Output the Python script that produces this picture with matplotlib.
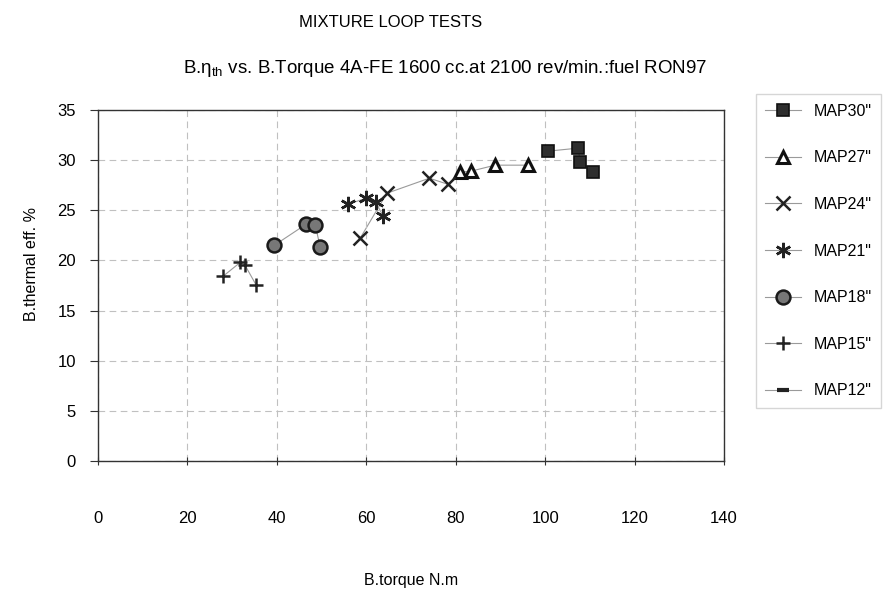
import matplotlib
import numpy as np

matplotlib.use("Agg")
from matplotlib import pyplot as plt
from matplotlib.lines import Line2D

plt.rcParams["font.family"] = ["Liberation Sans", "DejaVu Sans"]

# brake torque (N.m) and brake thermal efficiency (%) per manifold pressure
map30_torque = [100.7, 107.4, 107.8, 110.8]
map30_eff = [30.9, 31.2, 29.8, 28.8]

map27_torque = [81.0, 83.4, 88.8, 96.1]
map27_eff = [28.8, 28.9, 29.5, 29.5]

map24_torque = [58.6, 64.6, 74.1, 78.2]
map24_eff = [22.2, 26.7, 28.2, 27.6]

map21_torque = [55.9, 59.9, 62.1, 63.8]
map21_eff = [25.6, 26.2, 25.8, 24.4]

map18_torque = [39.4, 46.5, 48.6, 49.7]
map18_eff = [21.5, 23.6, 23.5, 21.3]

map15_torque = [27.9, 31.8, 32.9, 35.3]
map15_eff = [18.4, 19.8, 19.5, 17.6]

map12_torque = []
map12_eff = []

series_labels = ['MAP30"', 'MAP27"', 'MAP24"', 'MAP21"', 'MAP18"', 'MAP15"', 'MAP12"']

x_ticks = [0, 20, 40, 60, 80, 100, 120, 140]
y_ticks = [0, 5, 10, 15, 20, 25, 30, 35]

styles = [
    dict(marker="s", markersize=9, markerfacecolor="#2e2e2e", markeredgecolor="#111111", markeredgewidth=1.2),
    dict(marker="^", markersize=9, markerfacecolor="white", markeredgecolor="#111111", markeredgewidth=2.2),
    dict(marker="x", markersize=10, markeredgecolor="#222222", markeredgewidth=1.8),
    dict(marker=(6, 2, 0), markersize=11, markeredgecolor="#222222", markeredgewidth=1.8),
    dict(marker="o", markersize=10, markerfacecolor="#777777", markeredgecolor="#1a1a1a", markeredgewidth=1.8),
    dict(marker="+", markersize=10, markeredgecolor="#222222", markeredgewidth=1.8),
    dict(marker="_", markersize=8, markeredgecolor="#222222", markeredgewidth=3),
]

data = [
    (map30_torque, map30_eff),
    (map27_torque, map27_eff),
    (map24_torque, map24_eff),
    (map21_torque, map21_eff),
    (map18_torque, map18_eff),
    (map15_torque, map15_eff),
    (map12_torque, map12_eff),
]

fig = plt.figure(figsize=(8.83, 5.94), dpi=100)
axis = fig.add_axes([0.111, 0.2239, 0.709, 0.5909])

for (torque, eff), style in zip(data, styles):
    axis.plot(torque, eff, color="#9a9a9a", linewidth=0.8, linestyle="none", **style)
    axis.plot(torque, eff, color="#9a9a9a", linewidth=0.8, zorder=1)

axis.set_xlim(0, 140)
axis.set_ylim(0, 35)
axis.set_xticks(x_ticks)
axis.set_yticks(y_ticks)
axis.grid(True, color="#c0c0c0", linestyle=(0, (6, 4)), linewidth=0.8)
for spine in axis.spines.values():
    spine.set_color("#333333")
    spine.set_linewidth(1.0)
axis.tick_params(axis="x", direction="inout", length=6, pad=33, labelsize=12, color="#333333")
axis.tick_params(axis="y", direction="out", length=6, pad=10, labelsize=12, color="#333333")

axis.set_xlabel("B.torque N.m", fontsize=11.5, labelpad=34)
axis.set_ylabel("B.thermal eff. %", fontsize=11.5)
axis.yaxis.set_label_coords(-0.095, 0.56)

fig.text(0.442, 0.962, "MIXTURE LOOP TESTS", ha="center", va="center", fontsize=12)
fig.text(0.504, 0.885, r"B.$\mathregular{\eta_{th}}$ vs. B.Torque 4A-FE 1600 cc.at 2100 rev/min.:fuel RON97",
         ha="center", va="center", fontsize=13.5)

handles = [
    Line2D([], [], color="#9a9a9a", linewidth=0.8, **style) for style in styles
]
legend = fig.legend(handles, series_labels, loc="upper left", bbox_to_anchor=(0.847, 0.855),
                    frameon=True, fontsize=11.5, labelspacing=1.98, handlelength=2.2,
                    borderpad=0.6, fancybox=False, edgecolor="#cccccc")

fig.savefig("out.png", dpi=100)
plt.close(fig)
